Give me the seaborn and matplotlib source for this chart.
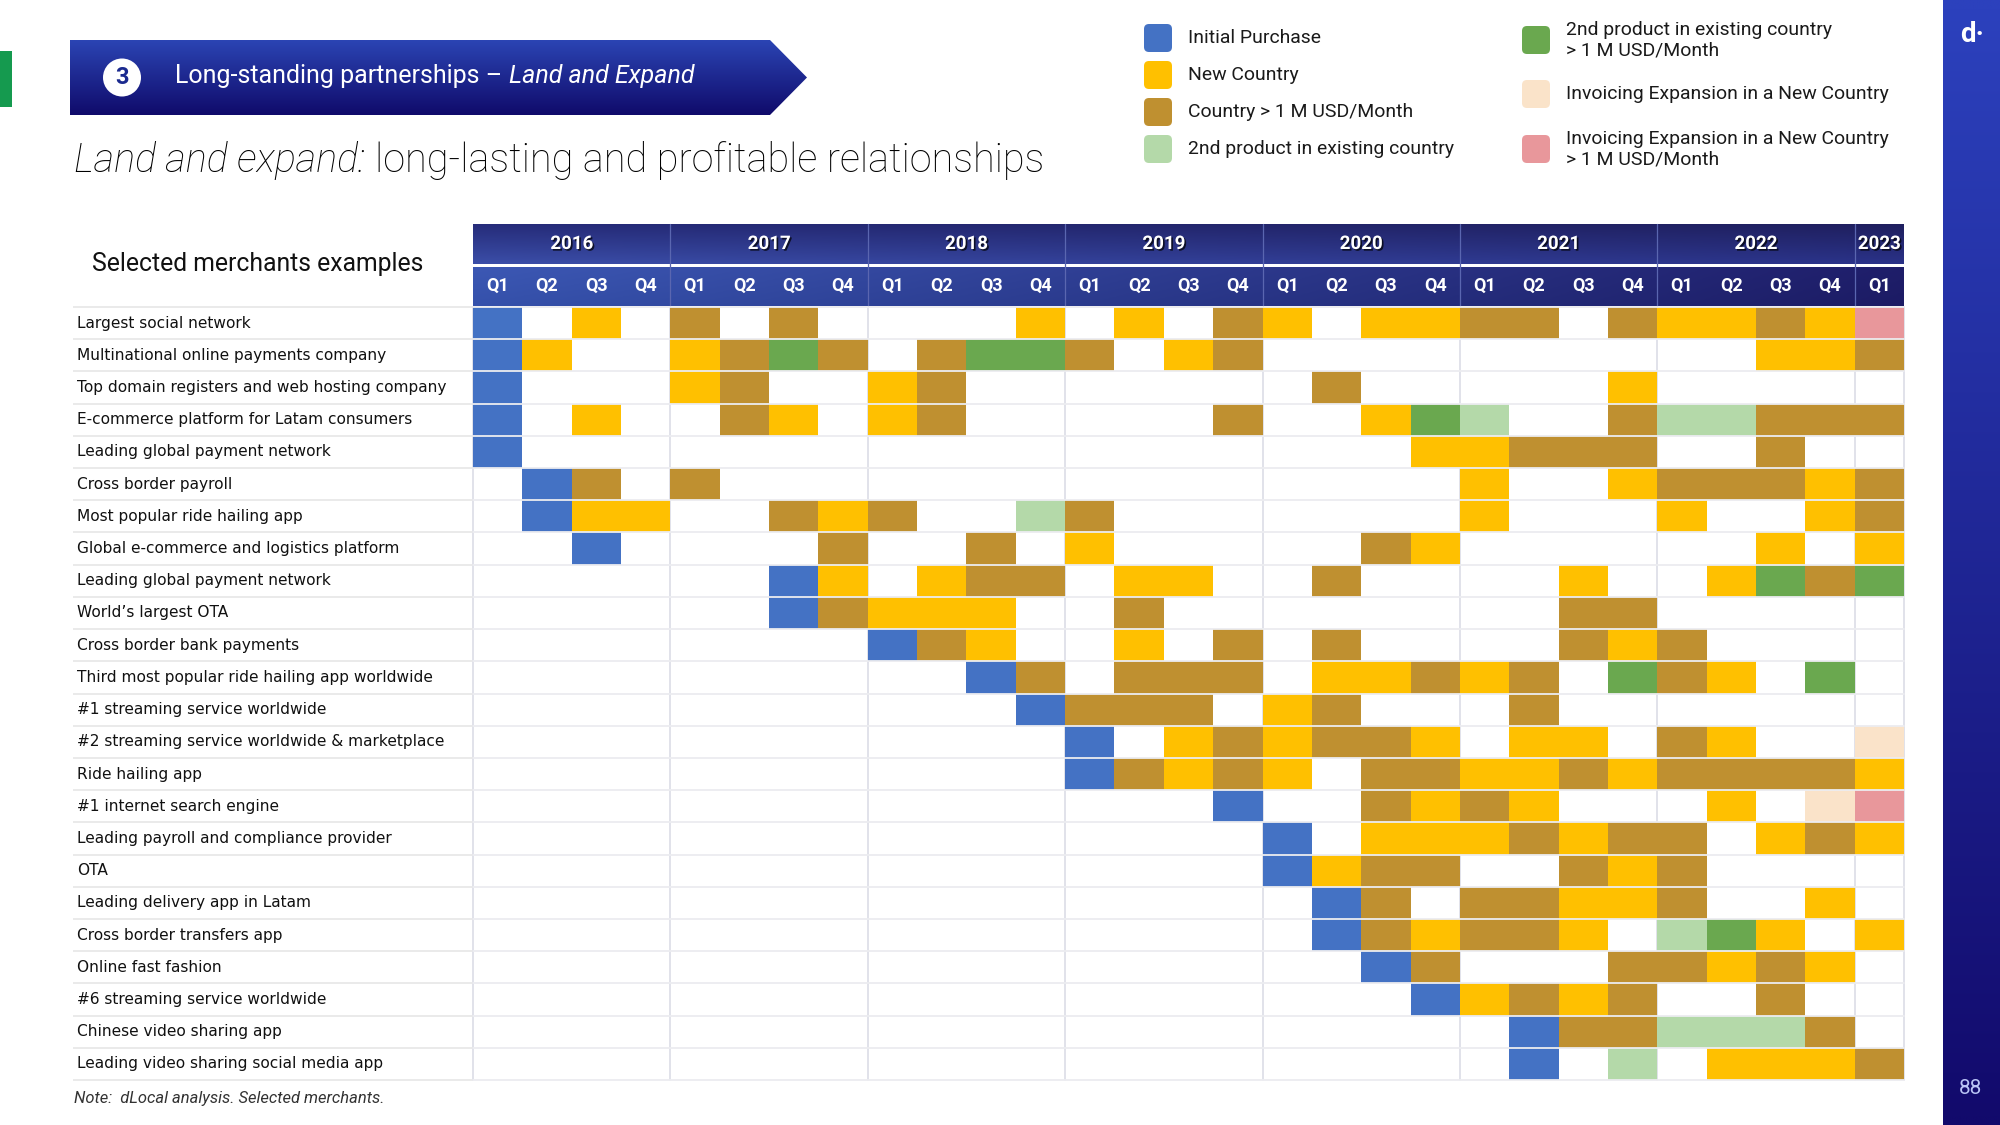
import numpy as np
import pandas as pd
import matplotlib
matplotlib.use("Agg")
import matplotlib.pyplot as plt
import matplotlib.patheffects as pe
from matplotlib.colors import ListedColormap, to_rgb
from matplotlib.patches import Polygon, FancyBboxPatch, Circle
from matplotlib.transforms import blended_transform_factory
import seaborn as sns

# ---- data ----
years = ["2016", "2017", "2018", "2019", "2020", "2021", "2022", "2023"]
quarters = ["Q1", "Q2", "Q3", "Q4"] * 7 + ["Q1"]

merchants = [
    "Largest social network",
    "Multinational online payments company",
    "Top domain registers and web hosting company",
    "E-commerce platform for Latam consumers",
    "Leading global payment network",
    "Cross border payroll",
    "Most popular ride hailing app",
    "Global e-commerce and logistics platform",
    "Leading global payment network",
    "World\u2019s largest OTA",
    "Cross border bank payments",
    "Third most popular ride hailing app worldwide",
    "#1 streaming service worldwide",
    "#2 streaming service worldwide & marketplace",
    "Ride hailing app",
    "#1 internet search engine",
    "Leading payroll and compliance provider",
    "OTA",
    "Leading delivery app in Latam",
    "Cross border transfers app",
    "Online fast fashion",
    "#6 streaming service worldwide",
    "Chinese video sharing app",
    "Leading video sharing social media app",
]

# one char per quarter (2016Q1 .. 2023Q1), 0 = nothing, 1..7 = legend category
status_rows = [
    "1020 3030 0002 0203 2022 3303 2232 7",
    "1200 2353 0355 3023 0000 0000 0022 3",
    "1000 2300 2300 0000 0300 0002 0000 0",
    "1020 0320 2300 0003 0025 4003 4433 3",
    "1000 0000 0000 0000 0002 2333 0030 0",
    "0130 3000 0000 0000 0000 2002 3332 3",
    "0122 0032 3004 3000 0000 2000 2002 3",
    "0010 0003 0030 2000 0032 0000 0020 2",
    "0000 0012 0233 0220 0300 0020 0253 5",
    "0000 0013 2220 0300 0000 0033 0000 0",
    "0000 0000 1320 0203 0300 0032 3000 0",
    "0000 0000 0013 0333 0223 2305 3205 0",
    "0000 0000 0001 3330 2300 0300 0000 0",
    "0000 0000 0000 1023 2332 0220 3200 6",
    "0000 0000 0000 1323 2033 2232 3333 2",
    "0000 0000 0000 0001 0032 3200 0206 7",
    "0000 0000 0000 0000 1022 2323 3023 2",
    "0000 0000 0000 0000 1233 0032 3000 0",
    "0000 0000 0000 0000 0130 3322 3002 0",
    "0000 0000 0000 0000 0132 3320 4520 2",
    "0000 0000 0000 0000 0013 0003 3232 0",
    "0000 0000 0000 0000 0001 2323 0030 0",
    "0000 0000 0000 0000 0000 0133 4443 0",
    "0000 0000 0000 0000 0000 0104 0222 3",
]

legend_labels = [
    "Initial Purchase",
    "New Country",
    "Country > 1 M USD/Month",
    "2nd product in existing country",
    "2nd product in existing country\n> 1 M USD/Month",
    "Invoicing Expansion in a New Country",
    "Invoicing Expansion in a New Country\n> 1 M USD/Month",
]
cell_colors = ["#ffffff", "#4472c4", "#ffc000", "#bf9030", "#b4d9a9",
               "#6aa84f", "#fae3c9", "#e8979b"]

# ---- layout (pixels) ----
W, H = 2000, 1125
GRID_L, GRID_R, GRID_T, GRID_B = 473, 1904, 307, 1080
LABEL_X = 77

sns.set_style("white")
plt.rcParams["font.family"] = ["Roboto", "DejaVu Sans"]

fig = plt.figure(figsize=(W / 100, H / 100), dpi=100)
renderer = fig.canvas.get_renderer()

ov = fig.add_axes([0, 0, 1, 1])
ov.set_xlim(0, W)
ov.set_ylim(H, 0)
ov.axis("off")


def gradient(tl, tr, bl, br, nx=200, ny=60):
    tl, tr, bl, br = [np.array(to_rgb(c)) for c in (tl, tr, bl, br)]
    u = np.linspace(0, 1, nx)[None, :, None]
    v = np.linspace(0, 1, ny)[:, None, None]
    top = tl * (1 - u) + tr * u
    bot = bl * (1 - u) + br * u
    return top * (1 - v) + bot * v


def text_width(s, **kw):
    t = ov.text(0, 0, s, **kw)
    w = t.get_window_extent(renderer).width
    t.remove()
    return w


def two_part(x, y, parts, size, target_w, **kw):
    # parts: list of (string, style); scale font so total width fits target
    total = 0
    for s, st in parts:
        total += text_width(s, fontsize=size, fontstyle=st, **kw)
    total += 0.25 * size * 100 / 72 * (len(parts) - 1)
    size = size * target_w / total
    gap = 0.25 * size * 100 / 72
    cx = x
    for s, st in parts:
        t = ov.text(cx, y, s, fontsize=size, fontstyle=st, va="center", ha="left", **kw)
        cx += t.get_window_extent(renderer).width + gap


# right side bar and left accent
ov.imshow(gradient("#2c41bd", "#2c41bd", "#120a6c", "#120a6c"),
          extent=(1943, W, H, 0), aspect="auto", zorder=0)
ov.text(1972, 34, "d\u00b7", color="white", fontsize=20, fontweight="bold",
        ha="center", va="center")
ov.text(1971, 1088, "88", color="#b9c3f5", fontsize=15, ha="center", va="center")
ov.add_patch(plt.Rectangle((0, 51), 12, 56, color="#159a4f", lw=0))

# banner
banner = Polygon([(70, 40), (770, 40), (807, 77.5), (770, 115), (70, 115)],
                 closed=True, facecolor="none", edgecolor="none")
ov.add_patch(banner)
img = ov.imshow(gradient("#2b44b3", "#2b44b3", "#100b6b", "#100b6b"),
                extent=(70, 807, 115, 40), aspect="auto", zorder=1)
img.set_clip_path(banner)
ov.add_patch(Circle((122, 77.5), 19, facecolor="white", edgecolor="none", zorder=2))
ov.text(122, 78, "3", color="#1b2a8f", fontsize=17, fontweight="bold",
        ha="center", va="center", zorder=3)
two_part(175, 76, [("Long-standing partnerships \u2013", "normal"),
                   ("Land and Expand", "italic")],
         17, 519, color="white", zorder=3)

# subtitle
two_part(74, 161, [("Land and expand:", "italic"),
                   ("long-lasting and profitable relationships", "normal")],
         28, 969, color="#000000", fontweight="light")

# legend
leg_pos = [(1158, 38), (1158, 75), (1158, 112), (1158, 149),
           (1536, 40), (1536, 94), (1536, 149)]
leg_size = 13 * 323 / text_width(legend_labels[5], fontsize=13)
for (lx, ly), lab, col in zip(leg_pos, legend_labels, cell_colors[1:]):
    ov.add_patch(FancyBboxPatch((lx - 14, ly - 14), 28, 28,
                                boxstyle="round,pad=0,rounding_size=5",
                                facecolor=col, edgecolor="none"))
    ov.text(lx + 30, ly, lab, fontsize=leg_size, color="#1a1a1a",
            va="center", ha="left", linespacing=1.15)

# header bands
ov.imshow(gradient("#262c7a", "#1f1f5e", "#3b4ea8", "#2a3288"),
          extent=(GRID_L, GRID_R, 264, 224), aspect="auto")
ov.imshow(gradient("#3c58b4", "#1f1e6a", "#3551ab", "#1c1b64"),
          extent=(GRID_L, GRID_R, 306, 267), aspect="auto")
sel_size = 17 * 333 / text_width("Selected merchants examples", fontsize=17)
ov.text(92, 264, "Selected merchants examples", fontsize=sel_size,
        color="#111111", va="center", ha="left")

# row separators in the label area
row_h = (GRID_B - GRID_T) / len(merchants)
ov.hlines([GRID_T + i * row_h for i in range(len(merchants) + 1)],
          73, GRID_L, color="#e6e6e6", lw=1.2)

note = "Note:  dLocal analysis. Selected merchants."
ov.text(74, 1098, note, fontstyle="italic", color="#333333", va="center", ha="left",
        fontsize=12 * 309 / text_width(note, fontsize=12, fontstyle="italic"))

# ---- heatmap grid ----
ax = fig.add_axes([GRID_L / W, 1 - GRID_B / H, (GRID_R - GRID_L) / W,
                   (GRID_B - GRID_T) / H])
data = np.array([[int(c) for c in row.replace(" ", "")] for row in status_rows])
df = pd.DataFrame(data, index=merchants, columns=range(len(quarters)))
sns.heatmap(df, ax=ax, cmap=ListedColormap(cell_colors), vmin=-0.5, vmax=7.5,
            cbar=False, mask=data == 0, xticklabels=quarters,
            yticklabels=merchants, linewidths=0)
ax.set_facecolor("white")

year_edges = list(range(0, len(quarters), 4)) + [len(quarters)]
for x in year_edges:
    ax.axvline(x, color="#dcdde6", lw=1.2, zorder=0.5, clip_on=False)
for i in range(len(merchants) + 1):
    ax.axhline(i, color="#ececf0", lw=1.3, zorder=3, clip_on=False)

# quarter labels on top
ax.xaxis.tick_top()
ax.tick_params(axis="x", length=0, pad=(GRID_T - 286) * 0.72)
for lbl in ax.get_xticklabels():
    lbl.set_rotation(0)
    lbl.set_va("center")
    lbl.set_color("white")
    lbl.set_fontsize(13)
    lbl.set_fontweight("bold")

# merchant labels, left aligned far left of the grid
row_size = 10.5 * 370 / text_width(merchants[2], fontsize=10.5, fontfamily="DejaVu Sans")
ax.tick_params(axis="y", length=0, pad=(GRID_L - LABEL_X) * 0.72)
for lbl in ax.get_yticklabels():
    lbl.set_rotation(0)
    lbl.set_ha("left")
    lbl.set_fontfamily("DejaVu Sans")
    lbl.set_fontsize(row_size)
    lbl.set_color("#111111")
ax.set_xlabel("")
ax.set_ylabel("")

# year labels and separators in the header
blend = blended_transform_factory(ax.transData, ov.transData)
for k, yr in enumerate(years):
    x0 = year_edges[k]
    x1 = year_edges[k + 1]
    ax.text((x0 + x1) / 2, 244, yr, transform=blend, color="white",
            fontsize=13.5, fontweight="bold", ha="center", va="center",
            clip_on=False,
            path_effects=[pe.withSimplePatchShadow(offset=(1.2, -1.2),
                                                   shadow_rgbFace="black", alpha=0.7)])
for x in year_edges[1:-1]:
    ax.plot([x, x], [224, 306], transform=blend, color="#5a66b0", lw=0.9,
            clip_on=False)

fig.savefig("out.png", dpi=100)
